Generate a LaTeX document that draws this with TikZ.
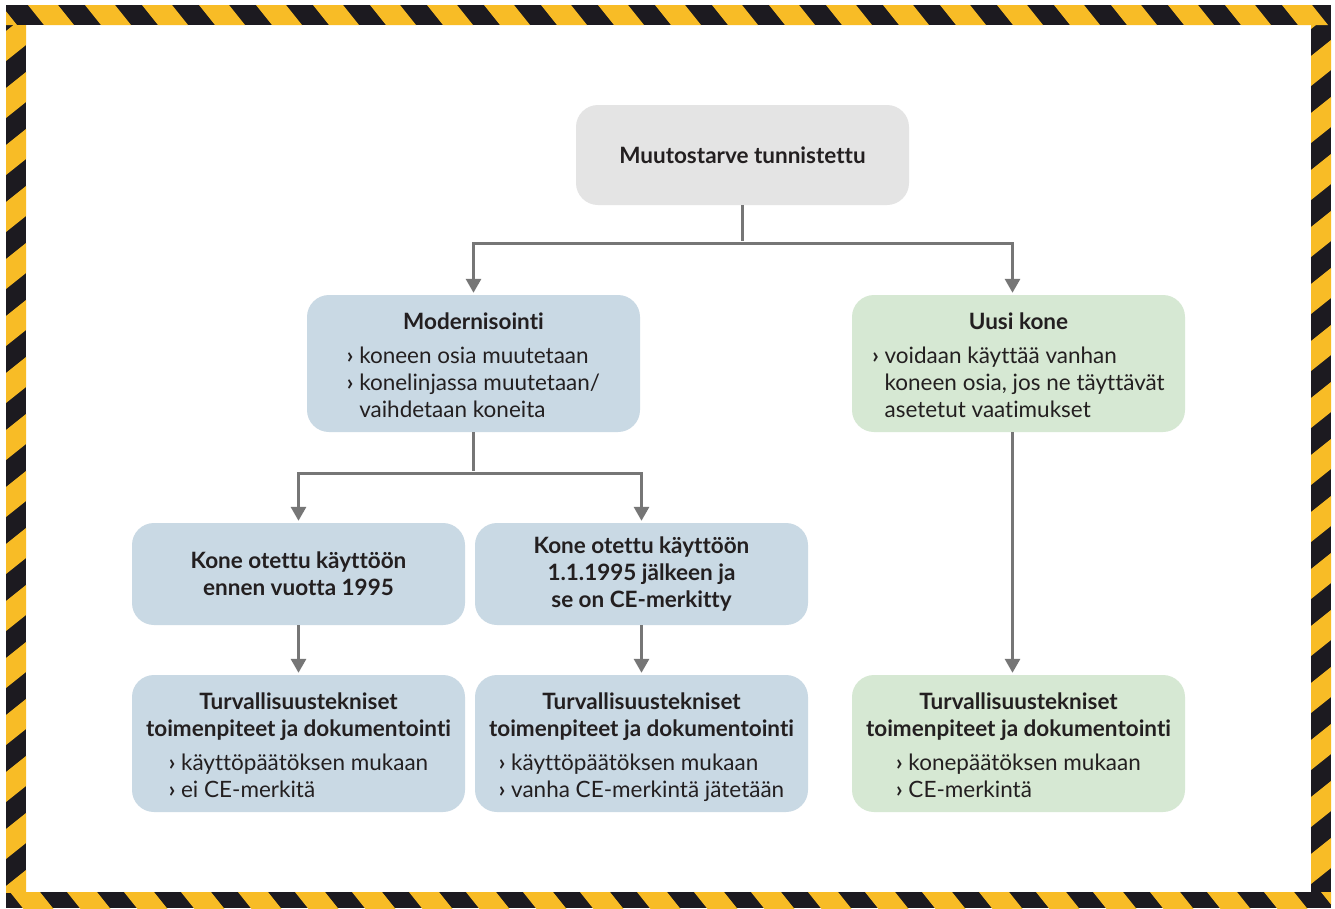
\documentclass[tikz,border=0pt]{standalone}
\usepackage{fontspec}
\setmainfont{Lato}[Ligatures=NoCommon]
\usepackage{tikz}
\usetikzlibrary{arrows.meta, calc}
\definecolor{tapeyellow}{RGB}{248,188,38}
\definecolor{tapeblack}{RGB}{28,26,32}
\definecolor{boxgrey}{RGB}{228,228,228}
\definecolor{boxblue}{RGB}{201,217,228}
\definecolor{boxgreen}{RGB}{214,232,211}
\definecolor{linegrey}{RGB}{118,118,118}
\definecolor{textdark}{RGB}{35,31,32}
\newcommand{\bul}{\textbf{›}\ }
\newcommand{\bulind}{\hphantom{\textbf{›}\ }}
\newcommand{\bullist}[1]{\begin{tabular}[t]{@{}l@{}}#1\end{tabular}}
\newcommand{\listtitle}[1]{\rule{0pt}{29pt}\textbf{#1}}
\tikzset{flowbox/.style={rounded corners=22pt,minimum width=333pt,inner sep=0pt,align=center,text=textdark,font=\fontsize{22.5}{27}\selectfont}}
\tikzset{greybox/.style={flowbox,fill=boxgrey}}
\tikzset{bluebox/.style={flowbox,fill=boxblue}}
\tikzset{greenbox/.style={flowbox,fill=boxgreen}}
\tikzset{link/.style={draw=linegrey,line width=3pt,->,shorten >=2pt}}
\tikzset{tapeband/.style={fill=tapeblack}}

\begin{document}
\begin{tikzpicture}[x=1pt,y=-1pt,>={Triangle[width=15pt,length=14pt]}]
                    \useasboundingbox[fill=white] (0,0) rectangle (1335,908);

                    % hazard tape frame
                    \fill[tapeband] (6,5) rectangle (1331,25);
                    \fill[tapeband] (6,892) rectangle (1331,908);
                    \fill[tapeband] (6,5) rectangle (26,908);
                    \fill[tapeband] (1311,5) rectangle (1331,908);
                    \begin{scope}
                        \clip (6,5) rectangle (1331,25);
                        \foreach \i in {-1,...,23}
                            \fill[tapeyellow] ({\i*57+28},5) -- ++(30,0) -- ++(16,20) -- ++(-30,0) -- cycle;
                    \end{scope}
                    \begin{scope}
                        \clip (6,892) rectangle (1331,908);
                        \foreach \i in {-1,...,23}
                            \fill[tapeyellow] ({\i*57+10},892) -- ++(30,0) -- ++(16,20) -- ++(-30,0) -- cycle;
                    \end{scope}
                    \begin{scope}
                        \clip (6,25) rectangle (26,892);
                        \foreach \i in {-1,...,16}
                            \fill[tapeyellow] (26,{\i*57+15}) -- ++(0,30) -- ++(-20,16) -- ++(0,-30) -- cycle;
                    \end{scope}
                    \begin{scope}
                        \clip (1311,25) rectangle (1331,892);
                        \foreach \i in {-1,...,16}
                            \fill[tapeyellow] (1331,{\i*57+40}) -- ++(0,30) -- ++(-20,16) -- ++(0,-30) -- cycle;
                    \end{scope}

                    % boxes
                    \node[greybox, minimum height=100pt] (tunn) at (742.5,155) {\textbf{Muutostarve tunnistettu}};
                    \node[bluebox, minimum height=137pt] (mod) at (473.5,363.5) {\listtitle{Modernisointi}\\[7pt]
                        \bullist{\bul koneen osia muutetaan\\ \bul konelinjassa muutetaan/\\ \bulind vaihdetaan koneita}};
                    \node[greenbox, minimum height=137pt] (uusi) at (1018.5,363.5) {\listtitle{Uusi kone}\\[7pt]
                        \bullist{\bul voidaan käyttää vanhan\\ \bulind koneen osia, jos ne täyttävät\\ \bulind asetetut vaatimukset}};
                    \node[bluebox, minimum height=102pt] (kone1) at (298.5,574) {\textbf{Kone otettu käyttöön}\\ \textbf{ennen vuotta 1995}};
                    \node[bluebox, minimum height=102pt] (kone2) at (641.5,574) {\textbf{Kone otettu käyttöön}\\ \textbf{1.1.1995 jälkeen ja}\\ \textbf{se on CE-merkitty}};
                    \node[bluebox, minimum height=137pt] (turv1) at (298.5,743.5) {\listtitle{Turvallisuustekniset}\\ \textbf{toimenpiteet ja dokumentointi}\\[7pt]
                        \bullist{\bul käyttöpäätöksen mukaan\\ \bul ei CE-merkitä}};
                    \node[bluebox, minimum height=137pt] (turv2) at (641.5,743.5) {\listtitle{Turvallisuustekniset}\\ \textbf{toimenpiteet ja dokumentointi}\\[7pt]
                        \bullist{\bul käyttöpäätöksen mukaan\\ \bul vanha CE-merkintä jätetään}};
                    \node[greenbox, minimum height=137pt] (turv3) at (1018.5,743.5) {\listtitle{Turvallisuustekniset}\\ \textbf{toimenpiteet ja dokumentointi}\\[7pt]
                        \bullist{\bul konepäätöksen mukaan\\ \bul CE-merkintä}};

                    % connectors
                    \coordinate (split1) at ($(tunn.south)+(0,38)$);
                    \coordinate (split2) at ($(mod.south)+(0,41)$);
                    \draw[link,-] (tunn) -- (split1);
                    \draw[link] (split1) -| (mod);
                    \draw[link] (split1) -| ([xshift=-6pt]uusi.north);
                    \draw[link,-] (mod) -- (split2);
                    \draw[link] (split2) -| (kone1);
                    \draw[link] (split2) -| (kone2);
                    \draw[link] (kone1) -- (turv1);
                    \draw[link] (kone2) -- (turv2);
                    \draw[link] ([xshift=-6pt]uusi.south) -- ([xshift=-6pt]turv3.north);

                \end{tikzpicture}
\end{document}
